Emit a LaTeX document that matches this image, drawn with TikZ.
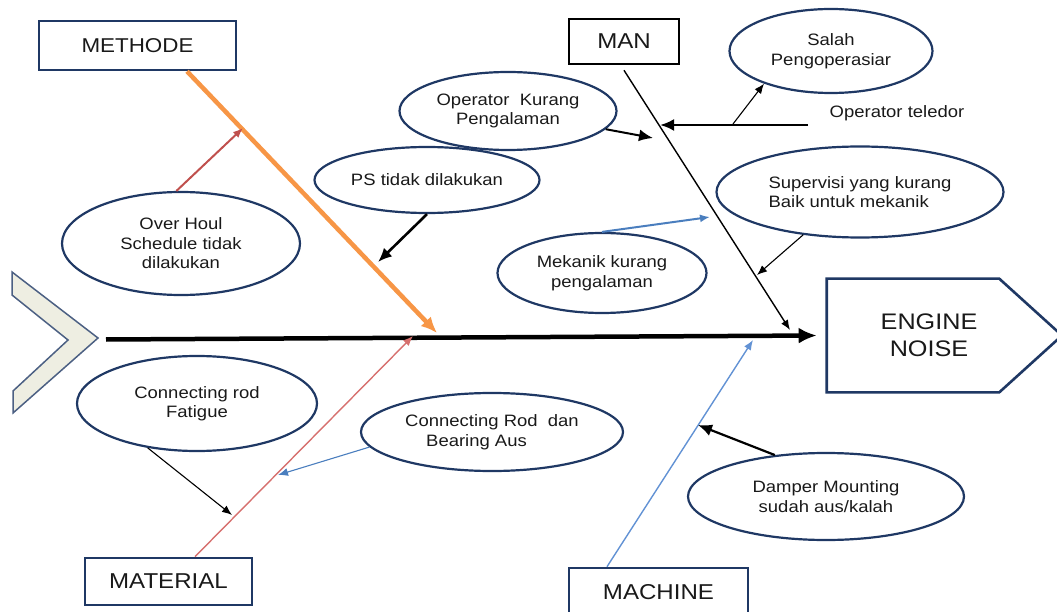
\documentclass[tikz,border=0pt]{standalone}
\usepackage{fontspec}
\setmainfont[FakeStretch=1.12]{Liberation Sans}
\usepackage{tikz}
\usetikzlibrary{shapes.geometric, arrows.meta, positioning}
\definecolor{navy}{RGB}{31,56,100}
\definecolor{boneorange}{RGB}{247,150,70}
\definecolor{bonered}{RGB}{214,112,110}
\definecolor{arrowred}{RGB}{192,80,77}
\definecolor{boneblue}{RGB}{98,146,212}
\definecolor{arrowblue}{RGB}{74,126,190}
\definecolor{tailfill}{RGB}{238,238,226}
\definecolor{inktext}{RGB}{25,25,25}
\newcommand{\causefont}{\fontsize{16.5}{19.5}\selectfont}
\newcommand{\catfont}{\fontsize{21.5}{25}\selectfont}
\tikzset{
  Arrow1/.style = {
    draw,
    -{Latex[length = 14pt, width = 12pt]},
    line width = 2.6pt,
  },
  Arrow2/.style = {
    draw,
    -{Latex[length = 10pt, width = 8pt]},
    line width = 1.1pt,
  },
  Spine/.style = {
    draw,
    -{Latex[length = 18pt, width = 16pt]},
    line width = 4.5pt,
  },
  Bone/.style = {
    draw,
    -{Latex[length = 10pt, width = 8pt]},
    line width = 1.4pt,
  },
  cause/.style = {
    ellipse, draw = navy, line width = 2.2pt, text = inktext,
    inner sep = 0pt, align = center, font = \causefont,
  },
  catbox/.style = {
    rectangle, draw = navy, line width = 2.6pt, text = inktext,
    inner sep = 0pt, font = \catfont,
  }
}

\begin{document}
\begin{tikzpicture}[x=1pt, y=-1pt]
  \useasboundingbox (0,0) rectangle (1057,612);

  % tail and head
  \draw[fill=tailfill, draw=navy!80, line width=1.5pt]
    (12,272) -- (98,338) -- (13,413) -- (13,391) -- (68,340) -- (12,295) -- cycle;
  \node[catbox, draw=none, align=center, minimum width=202pt, minimum height=111pt,
    font=\fontsize{22.5}{27}\selectfont] (noise) at (929,335.5) {ENGINE\\NOISE};
  \draw[navy, line width=2.6pt]
    (noise.north west) -- ([xshift=-32pt]noise.north east) -- (1062,335.5)
    -- ([xshift=-32pt]noise.south east) -- (noise.south west) -- cycle;

  % categories
  \node[catbox, minimum width=197pt, minimum height=49pt,
    font=\fontsize{20}{24}\selectfont] (methode) at (137.5,45.5) {METHODE};
  \node[catbox, draw=black, minimum width=110pt, minimum height=45pt]
    (man) at (624,41.5) {MAN\hspace{14pt}};
  \node[catbox, minimum width=167pt, minimum height=47pt]
    (material) at (168.5,581.5) {MATERIAL};
  \node[catbox, minimum width=179pt, minimum height=48pt]
    (machine) at (658.5,592) {MACHINE};

  % causes
  \node[cause, minimum width=238pt, minimum height=103pt]
    (overhoul) at (181,243.5) {Over Houl\\Schedule tidak\\dilakukan};
  \node[cause, minimum width=225pt, minimum height=66pt]
    (ps) at (427,180) {PS tidak dilakukan};
  \node[cause, minimum width=217pt, minimum height=78pt]
    (opkurang) at (508,111) {Operator\ \ Kurang\\Pengalaman};
  \node[cause, minimum width=203pt, minimum height=84pt]
    (salah) at (831,51) {Salah\\Pengoperasiar};
  \node[cause, align=left, minimum width=287pt, minimum height=91pt]
    (supervisi) at (860,192) {Supervisi yang kurang\\Baik untuk mekanik};
  \node[cause, minimum width=209pt, minimum height=80pt]
    (mekanik) at (602,273) {Mekanik kurang\\pengalaman};
  \node[cause, minimum width=240pt, minimum height=95pt]
    (fatigue) at (197,403.5) {Connecting rod\\Fatigue};
  \node[cause, align=left, minimum width=262pt, minimum height=78pt]
    (bearing) at (492,432) {Connecting Rod\ \ dan\\\hspace{21pt}Bearing Aus};
  \node[cause, minimum width=276pt, minimum height=87pt]
    (damper) at (826,496.5) {Damper Mounting\\sudah aus/kalah};
  \node[font=\causefont, text=inktext] (teledor) at (897,113) {Operator teledor};

  % spine and bones
  \coordinate (tail) at (106,339.5);
  \coordinate (m-end) at (437,333);
  \coordinate (man-end) at (790,330);
  \coordinate (mat-end) at (413,336);
  \coordinate (mac-end) at (753,340);
  \draw[Spine] (tail) -- ([xshift=-10pt]noise.west);
  \draw[draw=boneorange, line width=4.5pt, -{Latex[length=16pt, width=14pt]}]
    ([xshift=49.5pt]methode.south) -- (m-end);
  \draw[Bone] ([yshift=-5pt]man.south) -- (man-end);
  \draw[Bone, draw=bonered] ([xshift=26.5pt]material.north) -- (mat-end);
  \draw[Bone, draw=boneblue] ([xshift=-51.5pt]machine.north) -- (mac-end);

  % cause arrows
  \coordinate (oh-tip) at (243,128);
  \coordinate (ps-tip) at (378,262);
  \coordinate (opk-tip) at (653,138);
  \coordinate (tel-start) at (808,125);
  \coordinate (tel-tip) at (660,125);
  \coordinate (sal-foot) at (733,124);
  \coordinate (sup-tip) at (757,275);
  \coordinate (mek-tip) at (710,217);
  \coordinate (fat-tip) at (232,515);
  \coordinate (bear-tip) at (278,475);
  \coordinate (damp-tip) at (698,425);
  \draw[Arrow2, draw=arrowred, line width=2pt] (overhoul.95) -- (oh-tip);
  \draw[Arrow1] (ps.south) -- (ps-tip);
  \draw[Arrow1, line width=2pt] (opkurang) -- (opk-tip);
  \draw[Arrow1] (tel-start) -- (tel-tip);
  \draw[Arrow2] (sal-foot) -- (salah.206);
  \draw[Arrow2] (supervisi.217) -- (sup-tip);
  \draw[Arrow2, draw=arrowblue, line width=2pt] (mekanik.north) -- (mek-tip);
  \draw[Arrow2] (fatigue.222) -- (fat-tip);
  \draw[Arrow2, draw=arrowblue] (bearing.187) -- (bear-tip);
  \draw[Arrow1, line width=2.2pt] (damper.141) -- (damp-tip);
\end{tikzpicture}
\end{document}
